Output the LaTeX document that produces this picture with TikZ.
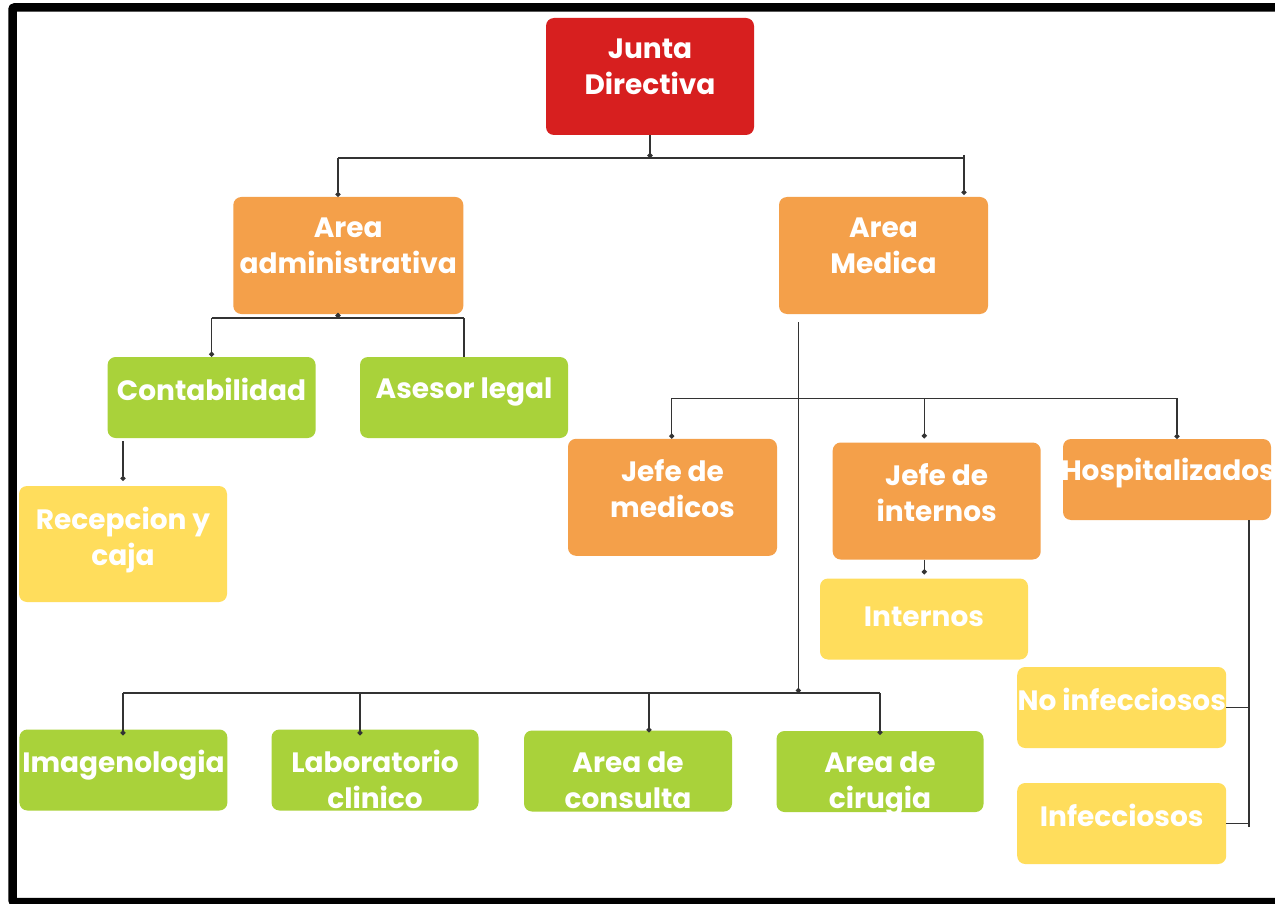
\documentclass[tikz,border=0pt]{standalone}
\usepackage{fontspec}
\setmainfont{Poppins}
\usetikzlibrary{arrows.meta}
\definecolor{cred}{HTML}{D71F1F}
\definecolor{corange}{HTML}{F4A04A}
\definecolor{cgreen}{HTML}{A9D23A}
\definecolor{cyellow}{HTML}{FFDD5C}
\definecolor{cline}{HTML}{333333}
\tikzset{
  box/.style={rounded corners=8pt, inner sep=0pt, draw=none, minimum width=208pt},
  tall/.style={minimum height=117pt},
  short/.style={minimum height=81pt},
  txt/.style={text=white, font=\bfseries\fontsize{28}{36}\selectfont, align=center, inner sep=0pt, anchor=north, yshift=-20.8pt},
  ctxt/.style={text=white, font=\bfseries\fontsize{28}{36}\selectfont, align=center, inner sep=0pt, anchor=center, yshift=2pt},
  conn/.style={draw=cline, line width=1.3pt},
  dotend/.style={-{Circle[length=5pt]}},
}
\begin{document}
\begin{tikzpicture}[x=1pt,y=-1pt]
\useasboundingbox (0,0) rectangle (1275,904);
\clip (0,0) rectangle (1275,904);
\fill[white] (0,0) rectangle (1275,904);
\draw[line width=8.5pt, rounded corners=2pt] (12.5,7.5) rectangle (1300,902);

% boxes
\node[box,tall,fill=cred,label={[txt]north:{Junta\\Directiva}}] (jd) at (650,76.5) {};
\node[box,tall,fill=corange,minimum width=230pt,label={[txt]north:{Area\\administrativa}}] (aa) at (348.3,255.5) {};
\node[box,tall,fill=corange,minimum width=209pt,label={[txt]north:{Area\\Medica}}] (am) at (883.5,255.5) {};
\node[box,short,fill=cgreen,label={[txt]north:{Contabilidad}}] (cont) at (211.6,397.5) {};
\node[box,short,fill=cgreen,label={[txt]north:{Asesor legal}}] (asl) at (464,397.5) {};
\node[box,minimum height=116pt,fill=cyellow,label={[txt]north:{Recepcion y\\caja}}] (rc) at (123,544) {};
\node[box,tall,fill=corange,minimum width=209pt,label={[txt]north:{Jefe de\\medicos}}] (jm) at (672.5,497.3) {};
\node[box,tall,fill=corange,label={[txt]north:{Jefe de\\internos}}] (ji) at (936.7,501) {};
\node[box,short,fill=cyellow,label={[ctxt]center:{Internos}}] (int) at (924,619) {};
\node[box,short,fill=corange,label={[txt,xshift=1pt,yshift=1.5pt]north:{Hospitalizados}}] (hosp) at (1167,479.5) {};
\node[box,short,fill=cyellow,minimum width=209pt,label={[txt]north:{No infecciosos}}] (noi) at (1121.7,707.5) {};
\node[box,short,fill=cyellow,minimum width=209pt,label={[txt]north:{Infecciosos}}] (inf) at (1121.7,823.5) {};
\node[box,short,fill=cgreen,label={[txt]north:{Imagenologia}}] (img) at (123.4,770) {};
\node[box,short,fill=cgreen,minimum width=207pt,label={[txt]north:{Laboratorio\\clinico}}] (lab) at (375,770) {};
\node[box,short,fill=cgreen,label={[txt]north:{Area de\\consulta}}] (cons) at (628,771) {};
\node[box,short,fill=cgreen,minimum width=207pt,label={[txt]north:{Area de\\cirugia}}] (cir) at (880,771.5) {};

% level 1
\coordinate (j1) at (650,158);
\coordinate (j1l) at (338,158);
\coordinate (j1r) at (964,158);
\draw[conn,dotend] (jd.south -| j1) -- (j1);
\draw[conn] (j1l) -- (j1r);
\draw[conn,dotend] (j1l) -- (j1l |- aa.north);
\draw[conn,dotend] ([yshift=3pt]j1r) -- ([yshift=2pt]j1r |- am.north);

% administrative
\coordinate (j2) at (338,318);
\draw[conn,dotend] (j2 |- aa.south) -- (j2);
\draw[conn] (cont.north |- j2) -- (asl.north |- j2);
\draw[conn,dotend] (cont.north |- j2) -- (cont.north);
\draw[conn] (asl.north |- j2) -- (asl.north);
\draw[conn,dotend] ([yshift=-3pt]rc.north |- cont.south) -- ([yshift=5pt]rc.north);

% medical
\coordinate (j3) at (798.3,693);
\draw[conn,dotend] ([yshift=-8pt]j3 |- am.south) -- (j3);
\coordinate (m1) at (671.7,398.3);
\coordinate (m2) at (924.3,398.3);
\coordinate (m3) at (1177,398.3);
\draw[conn] (m1) -- (m3);
\draw[conn,dotend] (m1) -- (m1 |- jm.north);
\draw[conn,dotend] (m2) -- ([yshift=4pt]m2 |- ji.north);
\draw[conn,dotend] (m3) -- (m3 |- hosp.north);
\draw[conn,dotend] (m2 |- ji.south) -- ([yshift=4pt]m2 |- int.north);

% bottom row
\coordinate (b1) at (123,693);
\coordinate (b2) at (360,693);
\coordinate (b3) at (649,693);
\coordinate (b4) at (880,693);
\draw[conn] (b1) -- (b4);
\draw[conn,dotend] (b1) -- ([yshift=-6pt]b1 |- img.north);
\draw[conn,dotend] (b2) -- ([yshift=-6pt]b2 |- lab.north);
\draw[conn,dotend] (b3) -- ([yshift=-2pt]b3 |- cons.north);
\draw[conn,dotend] (b4) -- ([yshift=-4pt]b4 |- cir.north);

% hospitalizados
\coordinate (h1) at (1249,826.7);
\draw[conn] (h1 |- hosp.south) -- (h1);
\draw[conn] (noi.east) -- (noi.east -| h1);
\draw[conn] (inf.east) -- (inf.east -| h1);
\end{tikzpicture}
\end{document}
